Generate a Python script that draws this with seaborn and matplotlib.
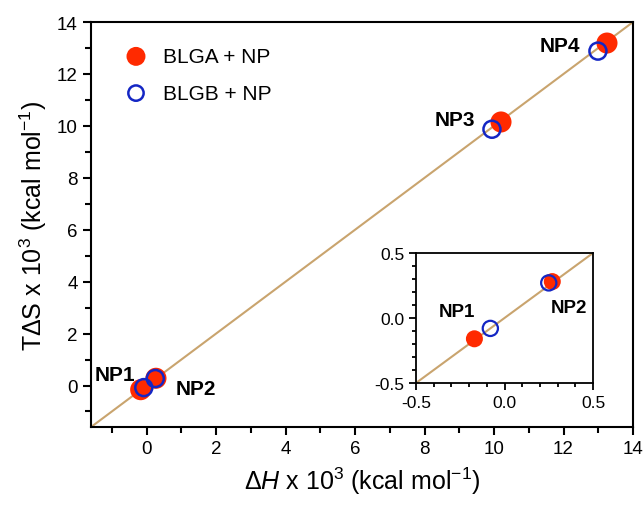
import numpy as np
import pandas as pd
import matplotlib
matplotlib.use('Agg')
import matplotlib.pyplot as plt
from matplotlib.ticker import MultipleLocator, FormatStrFormatter
import seaborn as sns

# data (x 10^3 kcal/mol)
samples = ['NP1', 'NP2', 'NP3', 'NP4']
blga_dH = [-0.17, 0.27, 10.20, 13.25]
blga_TdS = [-0.16, 0.28, 10.15, 13.19]
blgb_dH = [-0.08, 0.25, 9.94, 12.99]
blgb_TdS = [-0.08, 0.27, 9.87, 12.88]

df = pd.concat([
    pd.DataFrame({'dH': blga_dH, 'TdS': blga_TdS, 'sample': samples, 'series': 'BLGA + NP'}),
    pd.DataFrame({'dH': blgb_dH, 'TdS': blgb_TdS, 'sample': samples, 'series': 'BLGB + NP'}),
])
blga = df[df['series'] == 'BLGA + NP']
blgb = df[df['series'] == 'BLGB + NP']

red = '#FF2A00'
blue = '#1426C4'
tan = '#C9A46E'

sns.set_style('ticks')
plt.rcParams['font.family'] = ['Liberation Sans', 'DejaVu Sans']
plt.rcParams['mathtext.fontset'] = 'custom'
plt.rcParams['mathtext.rm'] = 'Liberation Sans'
plt.rcParams['mathtext.it'] = 'Liberation Sans:italic'
plt.rcParams['axes.unicode_minus'] = False
for k in ['text.color', 'axes.labelcolor', 'xtick.color', 'ytick.color', 'axes.edgecolor']:
    plt.rcParams[k] = 'black'

fig = plt.figure(figsize=(6.43, 5.06), dpi=100)
ax = fig.add_axes([0.1415, 0.154, 0.843, 0.8005])

lim = (-1.6, 14)
ax.plot(lim, lim, color=tan, lw=1.5, zorder=1)
sns.scatterplot(data=blga, x='dH', y='TdS', ax=ax, color=red, s=230,
                edgecolor='none', label='BLGA + NP', zorder=2)
sns.scatterplot(data=blgb, x='dH', y='TdS', ax=ax, facecolor='none', s=150,
                edgecolor=blue, linewidth=1.8, label='BLGB + NP', zorder=3)

ax.set_xlim(lim)
ax.set_ylim(lim)
ax.xaxis.set_major_locator(MultipleLocator(2))
ax.xaxis.set_minor_locator(MultipleLocator(1))
ax.yaxis.set_major_locator(MultipleLocator(2))
ax.yaxis.set_minor_locator(MultipleLocator(1))
ax.tick_params(which='major', length=6, width=1.5, labelsize=13.5, direction='out')
ax.tick_params(which='minor', length=4, width=1.5, direction='out')
for sp in ax.spines.values():
    sp.set_visible(True)
    sp.set_linewidth(1.5)

ax.set_xlabel(r'$\Delta\mathit{H}$ x 10$^3$ (kcal mol$^{-1}$)', fontsize=18, labelpad=5)
ax.set_ylabel(r'T$\Delta$S x 10$^3$ (kcal mol$^{-1}$)', fontsize=18, labelpad=6)

# labels on main plot
ax.text(-0.32, 0.42, 'NP1', fontsize=15, fontweight='bold', ha='right', va='center')
ax.text(0.83, -0.12, 'NP2', fontsize=15, fontweight='bold', ha='left', va='center')
ax.text(9.45, 10.26, 'NP3', fontsize=15, fontweight='bold', ha='right', va='center')
ax.text(12.47, 13.1, 'NP4', fontsize=15, fontweight='bold', ha='right', va='center')

leg = ax.legend(loc='upper left', bbox_to_anchor=(0.01, 0.985), frameon=False,
                fontsize=15, handletextpad=0.3, labelspacing=0.85, markerscale=0.9)

# inset
ins = fig.add_axes([416 / 643, 1 - 384 / 506, 177 / 643, 130 / 506])
ilim = (-0.5, 0.5)
ins.plot(ilim, ilim, color=tan, lw=1.5, zorder=1)
sns.scatterplot(data=blga.iloc[:2], x='dH', y='TdS', ax=ins, color=red, s=150,
                edgecolor='none', legend=False, zorder=2)
sns.scatterplot(data=blgb.iloc[:2], x='dH', y='TdS', ax=ins, facecolor='none', s=120,
                edgecolor=blue, linewidth=1.6, legend=False, zorder=3)
ins.set_xlim(ilim)
ins.set_ylim(ilim)
ins.xaxis.set_major_locator(MultipleLocator(0.5))
ins.xaxis.set_minor_locator(MultipleLocator(0.1))
ins.yaxis.set_major_locator(MultipleLocator(0.5))
ins.yaxis.set_minor_locator(MultipleLocator(0.1))
ins.xaxis.set_major_formatter(FormatStrFormatter('%.1f'))
ins.yaxis.set_major_formatter(FormatStrFormatter('%.1f'))
ins.tick_params(which='major', length=5, width=1.3, labelsize=12.5, direction='out')
ins.tick_params(which='minor', length=3, width=1.3, direction='out')
for sp in ins.spines.values():
    sp.set_visible(True)
    sp.set_linewidth(1.3)
ins.set_xlabel('')
ins.set_ylabel('')
ins.text(-0.167, 0.05, 'NP1', fontsize=13.5, fontweight='bold', ha='right', va='center')
ins.text(0.364, 0.08, 'NP2', fontsize=13.5, fontweight='bold', ha='center', va='center')

fig.savefig('out.png', dpi=100)
